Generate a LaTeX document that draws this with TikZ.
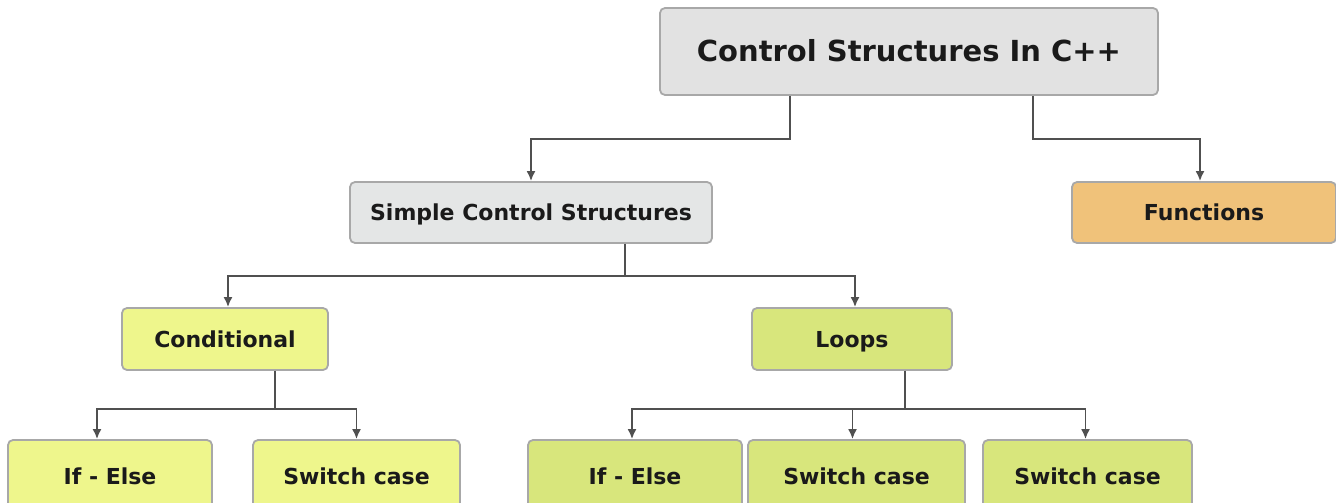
\documentclass[tikz,border=0pt]{standalone}
\usepackage{fontspec}
\setmainfont{DejaVu Sans}
\usetikzlibrary{arrows.meta,calc}
\definecolor{topfill}{HTML}{E2E2E2}
\definecolor{simplefill}{HTML}{E4E6E6}
\definecolor{funcfill}{HTML}{F0C27A}
\definecolor{yelfill}{HTML}{EEF68C}
\definecolor{grnfill}{HTML}{D8E67C}
\definecolor{boxline}{HTML}{A8A8A8}
\definecolor{conncol}{HTML}{505050}
\definecolor{txtcol}{HTML}{1A1A1A}
\tikzset{
  box/.style={rectangle, rounded corners=5pt, draw=boxline, line width=1.8pt,
    text=txtcol, font=\fontsize{22}{26}\selectfont\bfseries, inner sep=0pt,
    text height=16pt, text depth=0pt},
  conn/.style={draw=conncol, line width=1.8pt, -{Latex[length=10pt,width=9pt]}},
}
\begin{document}
\begin{tikzpicture}[x=1pt,y=-1pt]
\useasboundingbox (0,0) rectangle (1336,503);
\clip (0,0) rectangle (1336,503);
\fill[white] (0,0) rectangle (1336,503);
% nodes
\node[box, fill=topfill, minimum width=498pt, minimum height=87pt,
  font=\fontsize{29}{33}\selectfont\bfseries, text height=21pt] (top) at (909,51.5) {Control Structures In C++};
\node[box, fill=simplefill, minimum width=362pt, minimum height=61pt] (simple) at (531,212.5) {Simple Control Structures};
\node[box, fill=funcfill, minimum width=264pt, minimum height=61pt] (func) at (1204,212.5) {Functions};
\node[box, fill=yelfill, minimum width=206pt, minimum height=62pt] (cond) at (225,339) {Conditional};
\node[box, fill=grnfill, minimum width=200pt, minimum height=62pt] (loops) at (852,339) {Loops};
\node[box, fill=yelfill, minimum width=204pt, minimum height=72pt] (ie1) at (110,476) {If - Else};
\node[box, fill=yelfill, minimum width=207pt, minimum height=72pt] (sw1) at (356.5,476) {Switch case};
\node[box, fill=grnfill, minimum width=214pt, minimum height=72pt] (ie2) at (635,476) {If - Else};
\node[box, fill=grnfill, minimum width=217pt, minimum height=72pt] (sw2) at (856.5,476) {Switch case};
\node[box, fill=grnfill, minimum width=209pt, minimum height=72pt] (sw3) at (1087.5,476) {Switch case};
% connectors
\draw[conn] ([xshift=-119pt]top.south) -- ++(0,43) -| (simple.north);
\draw[conn] ([xshift=124pt]top.south) -- ++(0,43) -| ([xshift=-4pt]func.north);
\draw[conn] ([xshift=94pt]simple.south) -- ++(0,32) -| ([xshift=3pt]cond.north);
\draw[conn] ([xshift=94pt]simple.south) -- ++(0,32) -| ([xshift=3pt]loops.north);
\draw[conn] ([xshift=50pt]cond.south) -- ++(0,38) -| ([xshift=-13pt]ie1.north);
\draw[conn] ([xshift=50pt]cond.south) -- ++(0,38) -| (sw1.north);
\draw[conn] ([xshift=53pt]loops.south) -- ++(0,38) -| ([xshift=-3pt]ie2.north);
\draw[conn] ([xshift=53pt]loops.south) -- ++(0,38) -| ([xshift=-4pt]sw2.north);
\draw[conn] ([xshift=53pt]loops.south) -- ++(0,38) -| ([xshift=-2pt]sw3.north);
\end{tikzpicture}
\end{document}
